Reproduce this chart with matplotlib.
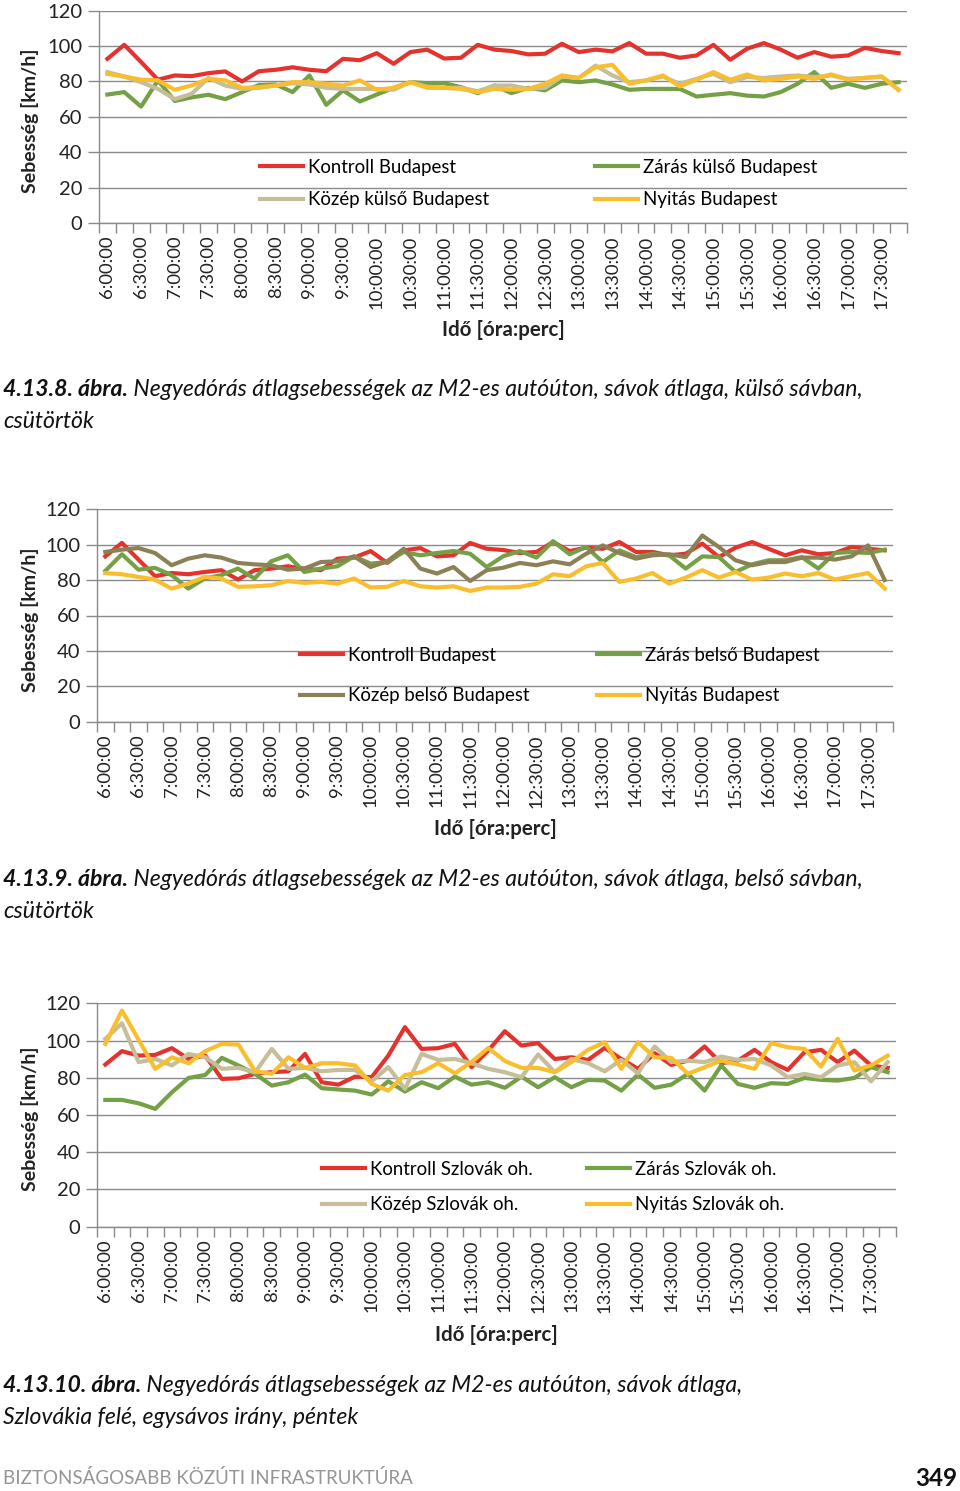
import numpy as np
import matplotlib
matplotlib.use("Agg")
import matplotlib.pyplot as plt
from matplotlib.ticker import FixedLocator

plt.rcParams['font.family'] = ['Lato', 'DejaVu Sans']

# 15-minute slots 6:00 .. 17:45, labels every 30 min
tick_labels = ["6:00:00", "6:30:00", "7:00:00", "7:30:00", "8:00:00", "8:30:00",
               "9:00:00", "9:30:00", "10:00:00", "10:30:00", "11:00:00", "11:30:00",
               "12:00:00", "12:30:00", "13:00:00", "13:30:00", "14:00:00", "14:30:00",
               "15:00:00", "15:30:00", "16:00:00", "16:30:00", "17:00:00", "17:30:00"]

# 4.13.8 - külső sáv
kontroll_1 = [92.8, 100.7, 91.0, 81.0, 83.4, 83.0, 84.7, 85.7, 80.0, 85.8, 86.6, 88.0,
              86.6, 85.8, 92.8, 92.0, 96.0, 90.0, 96.6, 98.0, 93.0, 93.4, 100.7, 98.0,
              97.2, 95.3, 95.7, 101.3, 96.6, 98.0, 97.0, 101.7, 95.7, 95.7, 93.4, 94.7,
              100.7, 92.3, 98.5, 101.7, 98.0, 93.4, 96.6, 94.0, 94.7, 99.0, 97.2, 96.0]
zaras_kulso = [72.6, 74.0, 65.8, 80.6, 69.0, 71.0, 72.5, 70.0, 74.0, 78.0, 78.3, 74.0,
               83.4, 66.8, 75.0, 68.7, 72.6, 76.4, 79.6, 79.0, 79.0, 76.8, 73.4, 77.7,
               73.4, 76.4, 75.0, 80.6, 79.6, 80.6, 78.3, 75.3, 75.8, 75.8, 75.8, 71.5,
               72.5, 73.4, 72.0, 71.5, 74.0, 78.7, 85.3, 76.4, 78.7, 76.4, 78.7, 79.6]
kozep_kulso = [85.3, 82.8, 79.6, 75.8, 70.0, 73.0, 82.0, 77.7, 75.8, 76.4, 77.7, 79.0,
               78.3, 76.4, 75.8, 75.8, 75.8, 75.3, 79.6, 77.0, 76.4, 76.4, 74.5, 77.7,
               77.7, 75.8, 76.4, 82.8, 82.0, 89.0, 83.4, 79.6, 80.6, 82.8, 78.7, 81.5,
               84.3, 79.6, 82.5, 82.0, 82.8, 83.4, 82.5, 83.4, 81.5, 82.0, 82.8, 75.3]
nyitas_1 = [84.3, 82.8, 81.0, 80.6, 75.3, 77.7, 81.5, 80.6, 76.4, 76.8, 77.7, 79.6,
            79.6, 78.7, 77.7, 80.6, 75.3, 76.4, 79.6, 76.4, 76.4, 75.8, 74.0, 75.8,
            75.3, 75.8, 78.7, 83.4, 82.0, 88.0, 89.4, 78.7, 80.6, 83.4, 77.2, 81.0,
            85.3, 81.0, 84.0, 80.6, 81.5, 82.8, 81.5, 84.0, 81.0, 82.0, 82.8, 75.3]

# 4.13.9 - belső sáv
kontroll_2 = [93.4, 101.0, 91.6, 82.2, 84.0, 83.3, 84.6, 85.6, 80.3, 85.6, 86.5, 87.8,
              86.5, 85.6, 92.1, 92.7, 96.4, 89.7, 96.8, 98.1, 93.4, 94.0, 101.0, 97.7,
              97.0, 95.3, 95.9, 101.5, 96.4, 98.3, 97.7, 101.5, 95.9, 95.9, 94.0, 94.9,
              100.6, 93.0, 98.3, 101.5, 97.7, 94.0, 96.8, 94.6, 95.3, 98.7, 97.7, 96.8]
zaras_belso = [85.2, 94.6, 85.9, 86.9, 82.8, 75.2, 80.9, 82.8, 86.5, 80.9, 90.6, 94.0,
               84.6, 86.5, 87.8, 93.4, 89.3, 90.2, 95.9, 94.0, 95.3, 96.4, 94.9, 87.4,
               93.5, 96.4, 92.7, 102.0, 94.6, 98.7, 90.2, 96.8, 93.0, 94.9, 94.0, 86.5,
               93.4, 93.0, 84.6, 88.9, 91.2, 91.2, 93.0, 86.5, 95.3, 95.9, 95.3, 97.2]
kozep_belso = [95.9, 97.2, 98.1, 95.3, 88.4, 92.1, 94.0, 92.7, 89.7, 88.9, 88.4, 85.9,
               86.5, 90.2, 90.6, 93.4, 87.4, 90.6, 97.7, 86.5, 83.7, 87.4, 79.5, 85.6,
               87.0, 89.7, 88.4, 90.6, 88.9, 94.9, 99.6, 95.3, 92.1, 94.0, 94.6, 93.0,
               105.2, 98.7, 91.2, 88.4, 90.2, 90.2, 92.7, 92.7, 91.6, 93.4, 99.6, 80.0]
nyitas_2 = [84.0, 83.3, 81.8, 80.3, 75.2, 78.0, 81.8, 80.9, 76.2, 76.5, 77.1, 79.5,
            78.4, 79.0, 78.0, 80.9, 75.8, 76.2, 79.5, 76.5, 75.8, 76.5, 73.9, 75.8,
            75.8, 76.2, 78.0, 83.3, 82.2, 87.8, 89.7, 79.0, 80.9, 84.0, 78.0, 81.4,
            85.6, 81.4, 84.6, 80.3, 81.4, 83.7, 82.2, 84.0, 80.3, 82.2, 84.0, 75.2]

# 4.13.10 - Szlovákia felé
kontroll_3 = [87.1, 94.3, 91.9, 92.3, 95.9, 90.1, 91.9, 79.4, 79.7, 82.1, 83.0, 83.5,
              92.8, 77.6, 76.3, 80.6, 80.3, 91.9, 107.2, 95.5, 95.9, 98.2, 85.7, 94.6,
              105.0, 97.3, 98.6, 90.1, 91.0, 89.6, 96.0, 90.1, 84.8, 93.2, 86.9, 89.2,
              96.8, 87.8, 89.2, 95.0, 88.4, 84.2, 93.7, 95.0, 88.4, 94.6, 86.6, 85.3]
zaras_szlovak = [68.1, 68.1, 66.3, 63.3, 72.2, 79.9, 81.5, 90.7, 86.6, 82.1, 75.8, 77.6,
                 81.7, 74.4, 73.7, 73.1, 71.0, 78.1, 72.6, 77.6, 74.4, 80.6, 76.3, 77.6,
                 74.6, 80.6, 74.9, 80.3, 74.9, 78.9, 78.5, 73.1, 81.7, 74.6, 76.3, 82.1,
                 73.1, 86.6, 76.7, 74.6, 77.1, 76.7, 79.9, 78.9, 78.5, 79.9, 85.7, 83.0]
kozep_szlovak = [100.9, 109.3, 88.4, 90.1, 86.6, 92.8, 91.0, 84.8, 85.3, 83.0, 95.5, 84.8,
                 85.3, 83.5, 84.2, 84.2, 78.1, 85.7, 74.0, 92.8, 89.6, 90.1, 87.8, 84.8,
                 83.0, 80.3, 92.5, 83.0, 90.1, 87.8, 83.5, 89.6, 82.4, 96.8, 88.4, 89.2,
                 88.4, 91.4, 89.6, 90.1, 86.6, 80.3, 82.1, 80.3, 86.6, 88.4, 78.1, 88.4]
nyitas_szlovak = [98.2, 116.1, 100.4, 84.8, 91.0, 87.8, 94.3, 98.2, 97.8, 83.5, 82.1, 91.0,
                  85.3, 87.8, 87.8, 86.6, 76.7, 73.1, 81.5, 83.0, 87.8, 82.4, 88.4, 96.0,
                  89.0, 85.3, 85.3, 83.0, 88.4, 95.0, 99.1, 84.8, 99.1, 91.0, 90.7, 82.1,
                  85.7, 89.2, 87.1, 84.8, 98.6, 96.4, 95.5, 86.0, 100.9, 83.9, 86.6, 91.9]

RED = '#E2332E'
GREEN = '#74A046'
TAN = '#C6BE99'
OLIVE = '#8C8156'
YELLOW = '#F8BE2E'
GRID = '#8A8A8A'
INK = '#222222'

W, H = 960, 1491
fig = plt.figure(figsize=(W / 100, H / 100), dpi=100)

# page overlay in pixel coordinates (y downwards) for free text
page = fig.add_axes([0, 0, 1, 1], zorder=-1)
page.set_xlim(0, W)
page.set_ylim(H, 0)
page.axis('off')


def chart(box, series, leg1, leg2, row_gap, xlab_y):
    left, top, right, bottom = box
    ax = fig.add_axes([left / W, 1 - bottom / H, (right - left) / W, (bottom - top) / H])
    x = np.arange(48)
    lines = {}
    for name, vals, col in series:
        ln, = ax.plot(x, vals, color=col, lw=3.0, label=name)
        lines[name] = ln
    ax.set_xlim(-0.5, 47.5)
    ax.set_ylim(0, 120)
    ax.set_yticks(np.arange(0, 121, 20))
    ax.grid(axis='y', color=GRID, lw=1.0)
    ax.set_axisbelow(True)
    for s in ['top', 'right']:
        ax.spines[s].set_visible(False)
    for s in ['left', 'bottom']:
        ax.spines[s].set_color(GRID)
        ax.spines[s].set_linewidth(1.0)
    ax.set_xticks(np.arange(0, 48, 2))
    ax.set_xticklabels(tick_labels, rotation=90, fontsize=13.3)
    ax.xaxis.set_minor_locator(FixedLocator(np.arange(-0.5, 48, 1)))
    ax.tick_params(axis='x', which='major', length=0, pad=9, colors=INK)
    ax.tick_params(axis='x', which='minor', length=7, color=GRID, width=1)
    ax.tick_params(axis='y', length=8, color=GRID, width=1, pad=4,
                   labelsize=14.5, labelcolor=INK)

    names = [s[0] for s in series]
    opts = dict(loc='center left', bbox_transform=fig.transFigure, frameon=False,
                fontsize=13.4, borderpad=0, borderaxespad=0, handlelength=2.3,
                handletextpad=0.3, labelspacing=row_gap)
    lg1 = ax.legend([lines[names[0]], lines[names[2]]], [names[0], names[2]],
                    bbox_to_anchor=(leg1[0] / W, 1 - leg1[1] / H), **opts)
    ax.add_artist(lg1)
    ax.legend([lines[names[1]], lines[names[3]]], [names[1], names[3]],
              bbox_to_anchor=(leg2[0] / W, 1 - leg2[1] / H), **opts)

    page.text(30, (top + bottom) / 2 + 4, 'Sebesség [km/h]', rotation=90,
              ha='center', va='center', fontsize=14, fontweight='bold', color=INK)
    page.text((left + right) / 2, xlab_y, 'Idő [óra:perc]', ha='center',
              va='center', fontsize=14.8, fontweight='bold', color=INK)
    return ax


chart((99, 10.7, 907, 223),
      [('Kontroll Budapest', kontroll_1, RED),
       ('Zárás külső Budapest', zaras_kulso, GREEN),
       ('Közép külső Budapest', kozep_kulso, TAN),
       ('Nyitás Budapest', nyitas_1, YELLOW)],
      (260, 183.5), (595, 183.5), 0.82, 330)

chart((97, 509.3, 893, 721.7),
      [('Kontroll Budapest', kontroll_2, RED),
       ('Zárás belső Budapest', zaras_belso, GREEN),
       ('Közép belső Budapest', kozep_belso, OLIVE),
       ('Nyitás Budapest', nyitas_2, YELLOW)],
      (300, 675.5), (597, 675.5), 1.25, 829)

chart((97, 1003.3, 896, 1226.7),
      [('Kontroll Szlovák oh.', kontroll_3, RED),
       ('Zárás Szlovák oh.', zaras_szlovak, GREEN),
       ('Közép Szlovák oh.', kozep_szlovak, TAN),
       ('Nyitás Szlovák oh.', nyitas_szlovak, YELLOW)],
      (322, 1187), (587, 1187), 0.98, 1335)

CAP = 16.6


def caption(y, num, rest, line2):
    t = page.text(3, y, num, ha='left', va='baseline', fontsize=CAP,
                  fontweight='bold', fontstyle='italic', color='#111111')
    page.annotate(' ' + rest, xy=(1, 0), xycoords=t, va='bottom', ha='left',
                  fontsize=CAP, fontstyle='italic', color='#111111')
    page.text(3, y + 31.5, line2, ha='left', va='baseline', fontsize=CAP,
              fontstyle='italic', color='#111111')


caption(396, '4.13.8. ábra.',
        'Negyedórás átlagsebességek az M2-es autóúton, sávok átlaga, külső sávban,',
        'csütörtök')
caption(886, '4.13.9. ábra.',
        'Negyedórás átlagsebességek az M2-es autóúton, sávok átlaga, belső sávban,',
        'csütörtök')
caption(1392, '4.13.10. ábra.',
        'Negyedórás átlagsebességek az M2-es autóúton, sávok átlaga,',
        'Szlovákia felé, egysávos irány, péntek')

page.text(3, 1478, 'BIZTONSÁGOSABB KÖZÚTI INFRASTRUKTÚRA', ha='left',
          va='center', fontsize=13.5, color='#959595')
page.text(957, 1478, '349', ha='right', va='center', fontsize=17.5,
          fontweight='bold', color='#111111')

fig.savefig('out.png', dpi=100)
